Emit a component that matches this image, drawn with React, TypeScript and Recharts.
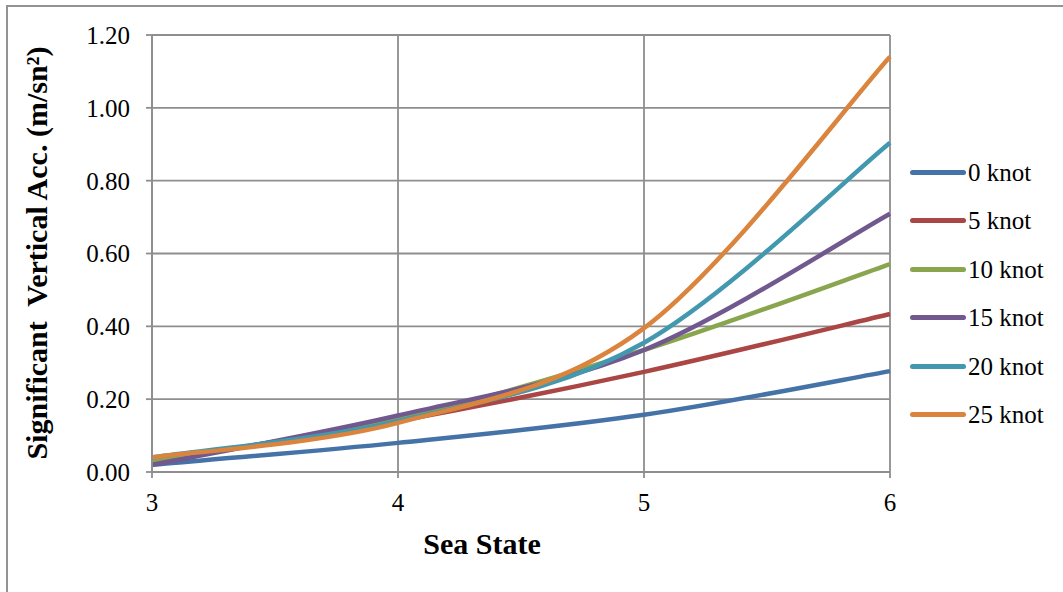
import { CartesianGrid, Legend, Line, LineChart, XAxis, YAxis } from "recharts";

const seaStates = [3, 4, 5, 6];
const knot0 = [0.02, 0.08, 0.157, 0.277];
const knot5 = [0.03, 0.14, 0.275, 0.434];
const knot10 = [0.03, 0.145, 0.335, 0.571];
const knot15 = [0.02, 0.155, 0.335, 0.709];
const knot20 = [0.04, 0.14, 0.355, 0.904];
const knot25 = [0.04, 0.135, 0.395, 1.14];
const yTicks = [0, 0.2, 0.4, 0.6, 0.8, 1.0, 1.2];

const series = [
  { key: "k0", name: "0 knot", values: knot0, color: "#4572A7" },
  { key: "k5", name: "5 knot", values: knot5, color: "#AA4643" },
  { key: "k10", name: "10 knot", values: knot10, color: "#89A54E" },
  { key: "k15", name: "15 knot", values: knot15, color: "#71588F" },
  { key: "k20", name: "20 knot", values: knot20, color: "#4198AF" },
  { key: "k25", name: "25 knot", values: knot25, color: "#DB843D" },
];

const data = seaStates.map((s, i) => {
  const row: Record<string, number> = { s };
  series.forEach((d) => (row[d.key] = d.values[i]));
  return row;
});

const FONT = '"Liberation Serif", "Times New Roman", serif';
const GRID = "#8e8e8e";

// Excel-like smoothed line (Catmull-Rom as cubic beziers)
function excelSmooth(context: any) {
  let pts: [number, number][] = [];
  return {
    areaStart() {},
    areaEnd() {},
    lineStart() {
      pts = [];
    },
    point(x: number, y: number) {
      pts.push([+x, +y]);
    },
    lineEnd() {
      if (!pts.length) return;
      context.moveTo(pts[0][0], pts[0][1]);
      for (let i = 0; i < pts.length - 1; i++) {
        const p0 = pts[Math.max(i - 1, 0)];
        const p1 = pts[i];
        const p2 = pts[i + 1];
        const p3 = pts[Math.min(i + 2, pts.length - 1)];
        context.bezierCurveTo(
          p1[0] + (p2[0] - p0[0]) / 6,
          p1[1] + (p2[1] - p0[1]) / 6,
          p2[0] - (p3[0] - p1[0]) / 6,
          p2[1] - (p3[1] - p1[1]) / 6,
          p2[0],
          p2[1]
        );
      }
    },
  };
}

function LegendBox() {
  return (
    <div style={{ fontFamily: FONT, fontSize: 25, color: "#000", lineHeight: 1 }}>
      {series.map((d) => (
        <div key={d.key} style={{ display: "flex", alignItems: "center", height: 48.5 }}>
          <div
            style={{ width: 56, height: 5, borderRadius: 2.5, background: d.color, marginRight: 2 }}
          />
          <span>{d.name}</span>
        </div>
      ))}
    </div>
  );
}

export default function App() {
  return (
    <div
      style={{
        position: "absolute",
        left: 0,
        top: 0,
        width: 1063,
        height: 592,
        background: "#fff",
        overflow: "hidden",
      }}
    >
      <div
        style={{
          position: "absolute",
          left: 6,
          top: 5,
          width: 1080,
          height: 620,
          border: "2px solid #939393",
        }}
      />
      <LineChart
        width={1063}
        height={592}
        data={data}
        margin={{ top: 35, right: 23, bottom: 40, left: 0 }}
        style={{ position: "absolute", left: 0, top: 0 }}
      >
        <CartesianGrid stroke={GRID} strokeWidth={1.8} />
        <XAxis
          dataKey="s"
          type="number"
          domain={[3, 6]}
          ticks={seaStates}
          height={80}
          stroke={GRID}
          strokeWidth={1.8}
          tickSize={6}
          tickMargin={15}
          tick={{ fill: "#000", fontFamily: FONT, fontSize: 25 }}
          label={{
            content: () => (
              <text
                x={482}
                y={554}
                textAnchor="middle"
                fontFamily={FONT}
                fontSize={30}
                fontWeight="bold"
                fill="#000"
              >
                Sea State
              </text>
            ),
          }}
        />
        <YAxis
          type="number"
          domain={[0, 1.2]}
          ticks={yTicks}
          width={152}
          stroke={GRID}
          strokeWidth={1.8}
          tickSize={6}
          tickMargin={16}
          tickFormatter={(v: number) => v.toFixed(2)}
          tick={{ fill: "#000", fontFamily: FONT, fontSize: 25 }}
          label={{
            content: () => (
              <text
                x={36}
                y={253}
                transform="rotate(-90, 36, 253)"
                textAnchor="middle"
                dominantBaseline="central"
                fontFamily={FONT}
                fontSize={30}
                fontWeight="bold"
                fill="#000"
                style={{ whiteSpace: "pre" }}
              >
                Significant  Vertical Acc. (m/sn²)
              </text>
            ),
          }}
        />
        <Legend
          layout="vertical"
          align="right"
          verticalAlign="top"
          content={() => <LegendBox />}
          wrapperStyle={{ position: "absolute", left: 910, top: 148, width: 150 }}
        />
        {series.map((d) => (
          <Line
            key={d.key}
            dataKey={d.key}
            name={d.name}
            type={excelSmooth as any}
            stroke={d.color}
            strokeWidth={4.5}
            dot={false}
            activeDot={false}
            isAnimationActive={false}
          />
        ))}
      </LineChart>
    </div>
  );
}
